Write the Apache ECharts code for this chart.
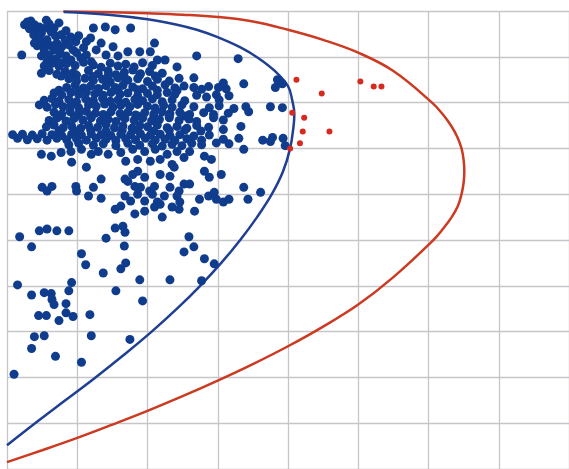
<!DOCTYPE html>
<html>
<head>
<meta charset="utf-8">
<script src="https://cdn.jsdelivr.net/npm/echarts@6/dist/echarts.min.js"></script>
<style>
html, body { margin: 0; padding: 0; background: #ffffff; }
#chart { width: 569px; height: 469px; }
</style>
</head>
<body>
<div id="chart"></div>
<script>
// Risk (x) against return (y) for individual portfolios, with two frontiers.

// Upper-left cluster of portfolios
const topCluster = [
  [0.25,9.70],[0.34,9.78],[0.39,9.70],[0.32,9.61],[0.42,9.59],[0.56,9.80],[0.60,9.72],[0.55,9.63],
  [0.74,9.74],[0.49,9.52],[0.38,9.48],[0.46,9.41],[0.63,9.54],[0.69,9.46],[0.57,9.37],[0.52,9.28],
  [0.77,9.48],[0.84,9.57],[0.91,9.43],[0.83,9.37],[0.71,9.30],[0.63,9.24],[0.43,9.24],[0.53,9.15],
  [0.67,9.15],[0.78,9.22],[0.88,9.26],[0.98,9.33],[1.02,9.46],[0.94,9.15],[0.76,9.07],[0.60,9.04],
  [0.49,9.02],[0.70,8.96],[0.84,9.02],[0.99,9.09],[1.09,9.20],[0.91,8.93],[1.05,8.98],[0.57,8.89],
  [0.78,8.87],[1.13,9.04],[0.21,9.04],[1.23,9.63],[1.40,9.65],[1.54,9.59],[1.76,9.63],[1.19,9.41],
  [1.34,9.30],[1.51,9.22],[1.72,9.11],[1.89,9.11],[1.27,9.15],[1.41,9.04],[1.58,9.02],[1.20,8.89],
  [0.29,9.76],[0.46,9.65],[0.67,9.63],[0.39,9.30],[1.13,9.33],[2.10,9.30],[2.04,9.11],[2.14,8.93],
  [2.25,8.93],[2.42,8.78],[2.70,9.02],[3.29,8.96]
];

// Dense block between returns of roughly 8 and 9
const upperBlock = [
  [0.53,8.80],[0.64,8.86],[0.74,8.79],[0.85,8.85],[0.97,8.81],[1.09,8.88],[1.23,8.82],[1.34,8.77],
  [1.47,8.86],[1.58,8.80],[1.69,8.84],[1.81,8.78],[1.93,8.87],[2.07,8.81],
  [0.49,8.64],[0.60,8.70],[0.71,8.62],[0.83,8.68],[0.94,8.65],[1.16,8.70],[1.30,8.63],[1.44,8.69],
  [1.55,8.61],[1.67,8.66],[1.79,8.71],[1.90,8.63],[2.03,8.68],[2.21,8.64],
  [0.77,8.58],[0.99,8.60],[1.22,8.57],[1.44,8.59],[1.67,8.56],[1.89,8.60],[2.11,8.58],
  [0.88,8.52],[0.99,8.47],[1.11,8.53],[1.23,8.48],[1.36,8.51],[1.47,8.45],[1.58,8.54],[1.72,8.49],
  [1.86,8.52],[2.00,8.46],[2.14,8.51],[2.31,8.47],[2.45,8.53],
  [0.85,8.33],[0.97,8.38],[1.09,8.32],[1.19,8.36],[1.30,8.31],[1.41,8.37],[1.54,8.33],[1.65,8.38],
  [1.79,8.34],[1.93,8.30],[2.07,8.36],[2.25,8.39],[2.39,8.32],[2.52,8.36],[2.66,8.33],[2.77,8.29],
  [2.87,8.35],[3.01,8.33],[3.12,8.30],
  [0.74,8.27],[1.02,8.26],[1.30,8.28],[1.58,8.26],[1.86,8.28],[2.14,8.27],[2.42,8.26],
  [0.67,8.21],[0.78,8.17],[0.91,8.22],[1.02,8.18],[1.13,8.23],[1.25,8.19],[1.37,8.16],[1.48,8.22],
  [1.61,8.18],[1.72,8.21],[1.86,8.15],[2.00,8.20],[2.14,8.17],[2.28,8.22],[2.39,8.18],[2.70,8.16],
  [2.84,8.12],[2.98,8.17],[3.16,8.15],
  [0.53,8.05],[0.64,8.09],[0.74,8.03],[0.88,8.07],[0.99,8.02],[1.12,8.08],[1.23,8.04],[1.36,8.09],
  [1.47,8.03],[1.58,8.06],[1.69,8.01],[1.82,8.07],[1.93,8.04],[2.07,8.08],[2.21,8.02],[2.35,8.06],
  [2.53,8.04],[3.02,8.06],
  [2.66,8.54],[3.37,8.41],[3.85,8.50],[3.92,8.41],[3.82,8.33],[3.08,8.43]
];

// Block between returns of roughly 7.4 and 8
const middleBlock = [
  [0.46,7.95],[0.57,7.90],[0.69,7.96],[0.80,7.91],[0.91,7.94],[1.02,7.89],[1.16,7.95],[1.27,7.92],
  [1.39,7.97],[1.51,7.90],[1.62,7.94],[1.75,7.91],[1.86,7.96],[2.00,7.92],[2.11,7.88],[2.23,7.94],
  [2.35,7.90],[2.49,7.95],[2.66,7.91],[2.88,7.89],[3.02,7.93],[3.23,7.87],[3.40,7.91],
  [0.67,7.79],[0.78,7.75],[0.90,7.80],[1.02,7.76],[1.13,7.81],[1.26,7.77],[1.37,7.74],[1.48,7.80],
  [1.61,7.76],[1.72,7.79],[1.83,7.73],[1.96,7.78],[2.09,7.75],[2.21,7.80],[2.32,7.76],[2.46,7.79],
  [2.60,7.74],[2.80,7.78],[2.94,7.74],[3.15,7.77],[3.44,7.80],[3.75,7.91],[3.92,7.89],
  [0.74,7.70],[0.97,7.69],[1.19,7.71],[1.41,7.69],[1.64,7.70],[1.86,7.71],[2.09,7.69],[2.31,7.70],
  [2.53,7.71],
  [0.60,7.61],[0.71,7.66],[0.84,7.60],[0.95,7.65],[1.08,7.62],[1.20,7.67],[1.33,7.60],[1.44,7.64],
  [1.55,7.59],[1.68,7.65],[1.81,7.61],[1.93,7.66],[2.06,7.60],[2.17,7.63],[2.31,7.67],[2.45,7.61],
  [2.59,7.64],[2.70,7.59],[2.94,7.67],[3.08,7.62],
  [0.56,7.47],[0.67,7.51],[0.80,7.45],[0.92,7.49],[1.05,7.44],[1.16,7.50],[1.29,7.46],[1.41,7.52],
  [1.53,7.45],[1.65,7.49],[1.78,7.44],[1.89,7.50],[2.00,7.47],[2.14,7.51],[2.28,7.45],[2.42,7.48],
  [2.56,7.44],[2.70,7.50],[2.87,7.46],[3.08,7.41],[3.33,7.48],
  [0.74,7.39],[0.97,7.38],[1.19,7.40],[1.41,7.38],[1.64,7.39],[1.86,7.40],[2.09,7.38],[2.31,7.39],
  [2.53,7.40],[2.76,7.38]
];

// Flat band of portfolios with returns near 7.25
const flatBand = [
  [0.08,7.30],[0.22,7.31],[0.36,7.29],[0.50,7.32],[0.64,7.30],[0.78,7.28],[0.92,7.31],[1.06,7.29],
  [1.20,7.32],[1.34,7.30],[1.48,7.28],[1.62,7.31],[1.76,7.30],[1.90,7.32],[2.04,7.29],[2.18,7.31],
  [2.32,7.28],[2.46,7.30],[2.66,7.27],[2.88,7.29],[3.30,7.22],[3.78,7.24],
  [0.15,7.22],[0.29,7.19],[0.43,7.21],[0.57,7.18],[0.71,7.22],[0.85,7.19],[0.99,7.21],[1.13,7.18],
  [1.27,7.22],[1.41,7.20],[1.55,7.17],[1.69,7.21],[1.83,7.19],[1.97,7.22],[2.11,7.18],[2.25,7.20],
  [2.39,7.17],[2.56,7.21],[2.77,7.18],[3.08,7.20],[3.64,7.18],[3.93,7.22]
];

// Portfolios with returns between about 5.5 and 7.1
const lowerBlock = [
  [0.88,7.08],[1.02,7.11],[1.23,7.07],[1.37,7.10],[1.55,7.06],[1.72,7.11],[1.89,7.07],[2.07,7.10],
  [2.21,7.05],[2.35,7.09],[2.49,7.06],[2.63,7.11],[2.77,7.08],[2.98,7.12],[3.16,7.10],[3.96,7.06],
  [0.49,6.87],[0.63,6.83],[0.77,6.91],[0.91,6.93],[0.92,6.70],[1.06,6.98],[1.13,6.59],[1.20,6.87],
  [1.30,6.93],[1.44,6.87],[1.62,6.91],[1.69,6.72],[1.79,6.98],[1.86,6.76],[1.96,6.93],[2.04,6.72],
  [2.11,6.98],[2.18,6.76],[2.28,6.87],[2.35,6.65],[2.42,6.93],[2.52,6.80],[2.60,6.93],[2.81,6.83],
  [2.91,6.76],[3.37,6.98],[3.75,7.15],
  [1.34,6.33],[1.68,6.33],[1.79,6.43],[1.86,6.50],[1.96,6.37],[2.18,6.43],[2.32,6.39],[2.38,6.59],
  [2.52,6.22],[2.60,6.22],[2.81,6.50],[2.88,6.37],[3.05,6.43],[0.50,6.15],[0.64,6.17],[0.57,6.07],
  [0.98,6.17],[0.99,6.07],[1.23,6.15],[1.72,6.28],[1.82,6.17],[1.90,6.15],[2.03,6.07],[2.10,6.17],
  [2.32,6.15],[2.45,6.07],[3.37,6.15],[3.61,6.04],
  [1.16,5.96],[1.34,5.91],[1.68,5.96],[1.76,5.85],[1.86,6.00],[1.96,5.85],[2.07,6.00],[2.14,5.83],
  [2.24,5.96],[2.42,5.96],[2.46,5.83],[2.74,5.89],[2.87,5.96],[2.98,5.89],[3.08,5.83],[3.16,5.89],
  [3.43,5.89],[2.95,6.04],[1.54,5.67],[1.62,5.74],[1.82,5.57],[1.96,5.63],[2.10,5.72],[2.18,5.78],
  [2.35,5.72],[2.45,5.67],[2.67,5.63],[2.21,5.50]
];

// Scattered low-return portfolios
const sparseTail = [
  [0.46,5.20],[0.57,5.24],[0.71,5.20],[0.88,5.20],[1.54,5.26],[1.65,5.30],[1.68,5.17],[0.18,5.07],
  [0.35,4.85],[1.41,5.04],[1.67,4.87],[2.59,5.07],[2.52,4.74],[2.66,4.85],[1.06,4.70],[1.12,4.46],
  [1.37,4.28],[1.62,4.37],[1.69,4.50],[1.89,4.13],[2.32,4.13],[0.15,4.02],[0.92,4.07],[0.88,3.89],
  [1.55,3.89],[0.35,3.80],[0.53,3.85],[0.63,3.83],[0.64,3.70],[0.67,3.59],[0.84,3.61],[1.93,3.67],
  [2.81,4.59],[2.95,4.48],[2.77,4.11],[0.45,3.35],[0.56,3.35],[0.74,3.24],[0.84,3.41],[0.94,3.33],
  [1.18,3.37],[0.39,2.89],[0.53,2.91],[1.20,2.91],[1.75,2.83],[0.35,2.63],[0.69,2.46],[1.06,2.33],
  [0.10,2.07]
];

// Portfolios lying beyond the inner frontier
const redOutliers = [
  [4.12,8.50],[4.48,8.20],[5.03,8.46],[5.22,8.35],[5.33,8.35],[4.06,7.78],[4.23,7.67],[4.21,7.37],
  [4.59,7.37],[4.17,7.11],[4.03,7.00]
];

// Inner (blue) frontier
const blueFrontier = [
  [0.81,9.98],[1.44,9.92],[2.00,9.82],[2.42,9.70],[2.70,9.59],[2.98,9.44],[3.33,9.20],[3.58,8.97],
  [3.82,8.68],[4.00,8.36],[4.06,8.05],[4.09,7.75],[4.08,7.50],[4.03,7.00],[3.93,6.50],[3.77,6.00],
  [3.56,5.50],[3.32,5.00],[3.05,4.50],[2.75,4.00],[2.42,3.50],[2.06,3.00],[1.67,2.50],[1.26,2.00],
  [0.83,1.50],[0.40,1.00],[0.00,0.52]
];

// Outer (red) frontier
const redFrontier = [
  [0.80,9.99],[1.50,9.97],[2.00,9.95],[2.50,9.92],[3.00,9.87],[3.50,9.77],[4.00,9.59],[4.50,9.37],
  [5.00,9.09],[5.50,8.69],[6.05,8.00],[6.20,7.75],[6.32,7.50],[6.41,7.25],[6.47,7.00],[6.50,6.75],
  [6.51,6.50],[6.50,6.25],[6.47,6.00],[6.42,5.75],[6.33,5.50],[6.21,5.25],[6.07,5.00],[5.50,4.19],
  [5.00,3.59],[4.50,3.11],[4.00,2.68],[3.50,2.29],[3.00,1.93],[2.50,1.59],[2.00,1.27],[1.50,0.97],
  [1.00,0.68],[0.50,0.41],[0.00,0.15]
];

const bluePoints = topCluster.concat(upperBlock, middleBlock, flatBand, lowerBlock, sparseTail);

const gridLine = { show: true, lineStyle: { color: '#c5c5ca', width: 1.3 } };

const chart = echarts.init(document.getElementById('chart'), null, { renderer: 'canvas' });
chart.setOption({
  animation: false,
  backgroundColor: '#ffffff',
  grid: { left: 7, top: 11, width: 571.4, height: 460 },
  xAxis: {
    type: 'value', min: 0, max: 8, interval: 1,
    axisLine: { show: false }, axisTick: { show: false }, axisLabel: { show: false },
    splitLine: gridLine
  },
  yAxis: {
    type: 'value', min: 0, max: 10, interval: 1,
    axisLine: { show: false }, axisTick: { show: false }, axisLabel: { show: false },
    splitLine: gridLine
  },
  series: [
    {
      type: 'line', data: redFrontier, smooth: 0.4, showSymbol: false, z: 2,
      lineStyle: { color: '#cc3a22', width: 2.5 }
    },
    {
      type: 'line', data: blueFrontier, smooth: 0.4, showSymbol: false, z: 2,
      lineStyle: { color: '#1f3f93', width: 2.5 }
    },
    {
      type: 'scatter', data: bluePoints, symbolSize: 9, z: 3,
      itemStyle: { color: '#0f3c8c', opacity: 1 }
    },
    {
      type: 'scatter', data: redOutliers, symbolSize: 6, z: 4,
      itemStyle: { color: '#d42a1f', opacity: 1 }
    }
  ]
});
</script>
</body>
</html>
